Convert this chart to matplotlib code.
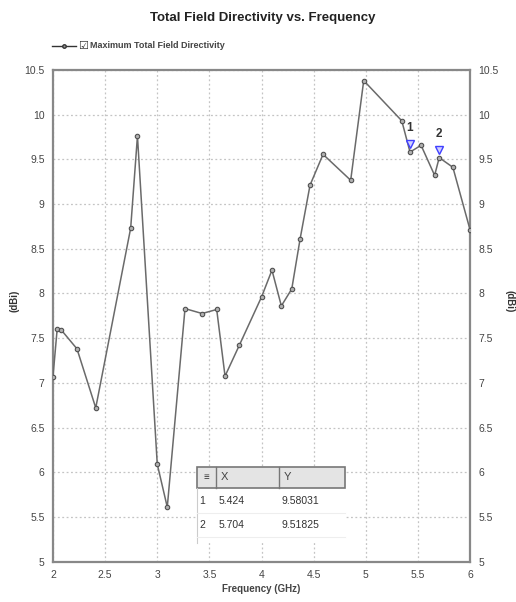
import matplotlib
matplotlib.use("Agg")
import matplotlib.pyplot as plt
from matplotlib.patches import Rectangle
from matplotlib.lines import Line2D

# ---------- data ---------- #
freq_ghz = [2.0, 2.04, 2.08, 2.23, 2.41, 2.745, 2.81, 3.0, 3.096, 3.266, 3.43, 3.57,
            3.65, 3.787, 4.0, 4.1, 4.19, 4.29, 4.37, 4.465, 4.59, 4.855, 4.98,
            5.345, 5.424, 5.53, 5.66, 5.704, 5.835, 6.0]
directivity = [7.07, 7.6, 7.59, 7.38, 6.72, 8.73, 9.76, 6.09, 5.61, 7.83, 7.775, 7.82,
               7.075, 7.42, 7.96, 8.26, 7.86, 8.05, 8.61, 9.21, 9.555, 9.265, 10.38,
               9.93, 9.58031, 9.656, 9.32, 9.51825, 9.41, 8.71]

marker_ids = ["1", "2"]
marker_x = [5.424, 5.704]
marker_y = [9.58031, 9.51825]

x_ticks = [2, 2.5, 3, 3.5, 4, 4.5, 5, 5.5, 6]
y_ticks = [5, 5.5, 6, 6.5, 7, 7.5, 8, 8.5, 9, 9.5, 10, 10.5]

LINE_COLOR = "#6a6a6a"
FONT = ["Liberation Sans Narrow", "Liberation Sans", "DejaVu Sans"]

plt.rcParams["font.family"] = FONT

fig = plt.figure(figsize=(5.16, 6.02), dpi=100)
ax = fig.add_axes([0.1027, 0.067, 0.8083, 0.817])

ax.plot(freq_ghz, directivity, color=LINE_COLOR, lw=1.1, marker="o", ms=3.2,
        mfc="#b0b0b0", mec="#505050", mew=0.8, zorder=3)

# markers 1 and 2
for mid, mx, my in zip(marker_ids, marker_x, marker_y):
    ax.plot([mx], [my + 0.09], marker="v", ms=6, mfc="#d0d0ff", mec="#4040ff",
            mew=1.0, zorder=4)
    ax.text(mx, my + 0.2, mid, ha="center", va="bottom", fontsize=8.5,
            fontweight="bold", color="#333333", zorder=5)

ax.set_xlim(2, 6)
ax.set_ylim(5, 10.5)
ax.set_xticks(x_ticks)
ax.set_xticklabels([f"{t:g}" for t in x_ticks])
ax.set_yticks(y_ticks)
ax.set_yticklabels([f"{t:g}" for t in y_ticks])
ax.tick_params(axis="both", length=0, labelsize=7.5, colors="#444444", pad=6)
ax.tick_params(axis="y", labelright=True, right=False)
ax.grid(True, color="#c4c4c4", ls=(0, (1.5, 2)), lw=0.9)
for sp in ax.spines.values():
    sp.set_color("#888888")
    sp.set_linewidth(1.6)

ax.set_xlabel("Frequency (GHz)", fontsize=7, fontweight="bold", color="#444444", labelpad=3)
fig.text(0.029, 0.5, "(dBi)", rotation=90, ha="center", va="center", fontsize=7,
         fontweight="bold", color="#333333")
fig.text(0.988, 0.5, "(dBi)", rotation=270, ha="center", va="center", fontsize=7,
         fontweight="bold", color="#333333")

fig.text(0.51, 0.97, "Total Field Directivity vs. Frequency", ha="center", va="center",
         fontsize=9.5, fontweight="bold", color="#222222")

# legend entry
fig.add_artist(Line2D([52 / 516, 64 / 516, 76 / 516], [1 - 46 / 602] * 3, color="#333333",
                      lw=1, marker="o", markevery=[1], ms=2.5, mfc="#999999",
                      mec="#333333", transform=fig.transFigure))
fig.text(78 / 516, 1 - 46 / 602, "\u2611", ha="left", va="center", fontsize=8,
         color="#333333", family=["DejaVu Sans"])
fig.text(90 / 516, 1 - 46 / 602, "Maximum Total Field Directivity", ha="left",
         va="center", fontsize=6.5, fontweight="bold", color="#444444")

# marker table
W, H = 516, 602


def fx(px):
    return px / W


def fy(py):
    return 1 - py / H


tbl_left, tbl_right = 197, 345
col_div = [216, 279]
hdr_top, hdr_bot = 467, 488
row_bot = [513, 537]
tbl_bot = 543

fig.add_artist(Rectangle((fx(tbl_left), fy(tbl_bot)), fx(tbl_right - tbl_left),
                         (tbl_bot - hdr_top) / H, transform=fig.transFigure,
                         facecolor="white", edgecolor="none", zorder=5))
fig.add_artist(Rectangle((fx(tbl_left), fy(hdr_bot)), fx(tbl_right - tbl_left),
                         (hdr_bot - hdr_top) / H, transform=fig.transFigure,
                         facecolor="#e4e4e4", edgecolor="#777777", lw=1.2, zorder=6))
for cx in col_div:
    fig.add_artist(Line2D([fx(cx)] * 2, [fy(hdr_top), fy(hdr_bot)], color="#777777",
                          lw=1, transform=fig.transFigure, zorder=7))
fig.add_artist(Line2D([fx(tbl_left)] * 2, [fy(hdr_bot), fy(tbl_bot)], color="#cccccc",
                      lw=0.8, transform=fig.transFigure, zorder=7))
for rb in row_bot:
    fig.add_artist(Line2D([fx(tbl_left), fx(tbl_right)], [fy(rb)] * 2, color="#eeeeee",
                          lw=0.8, transform=fig.transFigure, zorder=7))

hdr_y = fy((hdr_top + hdr_bot) / 2)
fig.text(fx(206), hdr_y, "\u2261", ha="center", va="center", fontsize=7,
         fontweight="bold", color="#333333", zorder=8)
fig.text(fx(221), hdr_y, "X", ha="left", va="center", fontsize=8, color="#444444", zorder=8)
fig.text(fx(284), hdr_y, "Y", ha="left", va="center", fontsize=8, color="#444444", zorder=8)
row_tops = [hdr_bot] + row_bot[:-1]
for i, (mid, mx, my) in enumerate(zip(marker_ids, marker_x, marker_y)):
    ry = fy((row_tops[i] + row_bot[i]) / 2)
    fig.text(fx(199), ry, mid, ha="left", va="center", fontsize=7.5, color="#333333", zorder=8)
    fig.text(fx(219), ry, f"{mx:.3f}", ha="left", va="center", fontsize=7.5,
             color="#333333", zorder=8)
    fig.text(fx(282), ry, f"{my:.5f}", ha="left", va="center", fontsize=7.5,
             color="#333333", zorder=8)

fig.savefig("out.png", dpi=100)
